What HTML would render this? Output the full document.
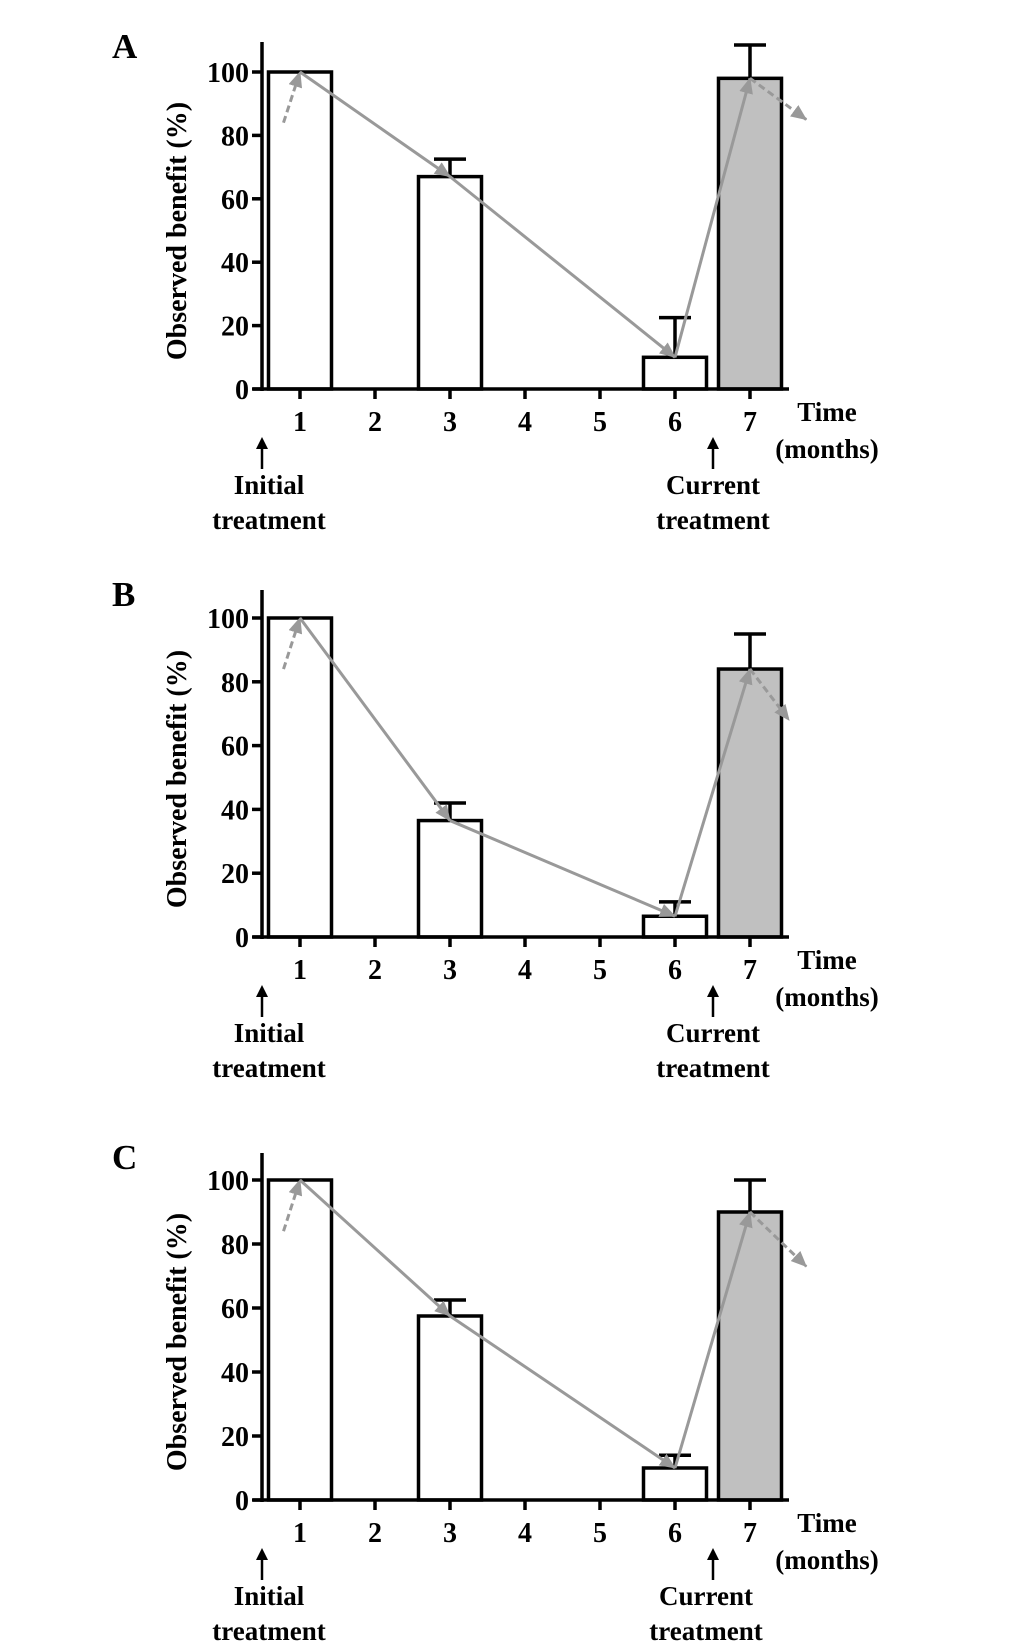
<!DOCTYPE html>
<html><head><meta charset="utf-8"><style>
html,body{margin:0;padding:0;background:#fff}
svg{display:block}
text{font-family:"Liberation Serif",serif;font-weight:bold;fill:#000}
</style></head><body>
<svg id="fig" width="1033" height="1643" viewBox="0 0 1033 1643">
<defs>
<marker id="ahl" markerWidth="16" markerHeight="14" refX="15" refY="7" orient="auto" markerUnits="userSpaceOnUse"><path d="M0,0 L16,7 L0,14 z" fill="#999"/></marker>
</defs>
</svg>
<script>
const panelLetters = ["A", "B", "C"];
const months = [1, 2, 3, 4, 5, 6, 7];
const barMonths = [1, 3, 6, 7];
const valuesA = [100, 67, 10, 98];
const errorsA = [0, 72.5, 22.5, 108.5];
const valuesB = [100, 36.5, 6.5, 84];
const errorsB = [0, 42, 11, 95];
const valuesC = [100, 57.5, 10, 90];
const errorsC = [0, 62.5, 14, 100];
const dashStart = [[0.78, 84], [0.78, 84], [0.78, 84]];
const dashEnd = [[7.75, 85], [7.52, 68], [7.75, 73]];
const yTicks = [0, 20, 40, 60, 80, 100];

const svg = document.getElementById('fig');
const NS = 'http://www.w3.org/2000/svg';
function mk(tag, attrs, parent) {
  const e = document.createElementNS(NS, tag);
  for (const k in attrs) e.setAttribute(k, attrs[k]);
  (parent || svg).appendChild(e);
  return e;
}
function txt(s, x, y, size, parent, anchor) {
  const t = mk('text', {x: x, y: y, 'font-size': size, 'text-anchor': anchor || 'middle'}, parent);
  t.textContent = s;
  return t;
}
const baselines = [389, 937, 1500];
const scales = [3.17, 3.19, 3.2];
const allVals = [valuesA, valuesB, valuesC];
const allErr = [errorsA, errorsB, errorsC];
const currentX = [713, 713, 706];

baselines.forEach((y0, p) => {
  const g = mk('g', {});
  
  
  const sx = m => 300 + (m - 1) * 75;
  const sy = v => y0 - v * scales[p];
  const bw = 63;
  const L = txt(panelLetters[p], 112, y0 - 331, 35, g, 'start');
  
  
  barMonths.forEach((m, i) => {
    const v = allVals[p][i];
    const r = mk('rect', {x: sx(m) - bw / 2, y: sy(v), width: bw, height: y0 - sy(v), fill: m === 7 ? '#c0c0c0' : '#fff', stroke: '#000', 'stroke-width': 3.5}, g);
    
    
    const e = allErr[p][i];
    if (e > v) {
      const eb = mk('path', {d: `M${sx(m)},${sy(v)} V${sy(e)} M${sx(m) - 16},${sy(e)} H${sx(m) + 16}`, stroke: '#000', 'stroke-width': 3.5, fill: 'none'}, g);
      
      
    }
  });
  const ya = mk('path', {d: `M262,${y0 - 347} V${y0 + 2}`, stroke: '#000', 'stroke-width': 3.5, fill: 'none'}, g);
  
  
  const xa = mk('path', {d: `M253,${y0} H789`, stroke: '#000', 'stroke-width': 3.5, fill: 'none'}, g);
  
  
  yTicks.forEach(t => {
    mk('path', {d: `M252,${sy(t)} H262`, stroke: '#000', 'stroke-width': 3.5}, g);
    const tl = txt(String(t), 249, sy(t) + 10, 28, g, 'end');
    
    
  });
  months.forEach(m => {
    mk('path', {d: `M${sx(m)},${y0} V${y0 + 10}`, stroke: '#000', 'stroke-width': 3.5}, g);
    const tl = txt(String(m), sx(m), y0 + 42, 28, g);
    
    
  });
  const yt = txt('Observed benefit (%)', 0, 0, 28, g);
  yt.setAttribute('transform', `translate(186,${y0 - 158}) rotate(-90)`);
  
  
  const t1 = txt('Time', 827, y0 + 32, 27, g);
  
  
  txt('(months)', 827, y0 + 69, 27, g);
  [[262, 269, 'Initial'], [713, currentX[p], 'Current']].forEach(a => {
    mk('path', {d: `M${a[0]},${y0 + 80} V${y0 + 56}`, stroke: '#000', 'stroke-width': 2.5}, g);
    mk('path', {d: `M${a[0] - 6},${y0 + 60} L${a[0]},${y0 + 48} L${a[0] + 6},${y0 + 60} z`, fill: '#000'}, g);
    const an = txt(a[2], a[1], y0 + 105, 27, g);
    
    
    txt('treatment', a[1], y0 + 140, 27, g);
  });
  const vals = allVals[p];
  const ds = mk('line', {x1: sx(dashStart[p][0]), y1: sy(dashStart[p][1]), x2: sx(1), y2: sy(vals[0]), stroke: '#999', 'stroke-width': 3, 'stroke-dasharray': '7,4', 'marker-end': 'url(#ahl)'}, g);
  
  
  for (let i = 0; i < barMonths.length - 1; i++) {
    const ln = mk('line', {x1: sx(barMonths[i]), y1: sy(vals[i]), x2: sx(barMonths[i + 1]), y2: sy(vals[i + 1]), stroke: '#999', 'stroke-width': 3, 'marker-end': 'url(#ahl)'}, g);
    
    
  }
  const de = mk('line', {x1: sx(7), y1: sy(vals[3]), x2: sx(dashEnd[p][0]), y2: sy(dashEnd[p][1]), stroke: '#999', 'stroke-width': 3, 'stroke-dasharray': '7,4', 'marker-end': 'url(#ahl)'}, g);
  
  
});
</script>
</body></html>
